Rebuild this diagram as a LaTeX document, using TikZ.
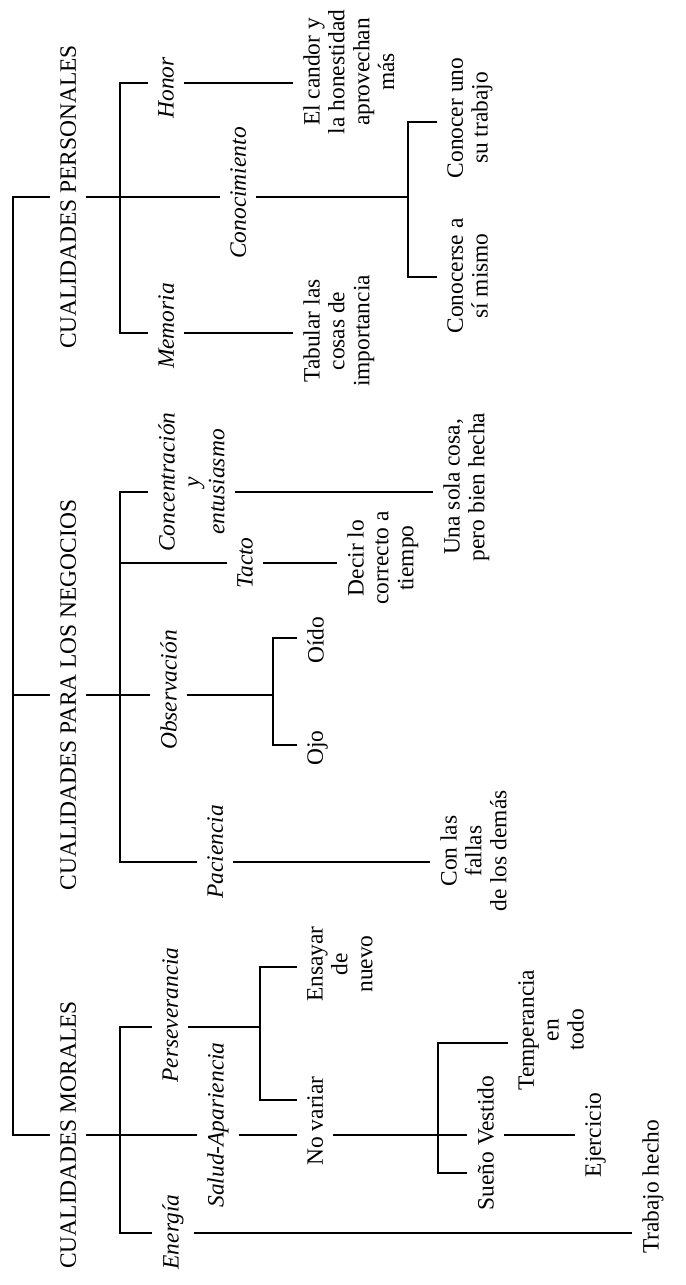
\documentclass[tikz,border=0pt]{standalone}
\usepackage{fontspec}
\setmainfont{Liberation Serif}
\begin{document}
\begin{tikzpicture}[x=0.015cm,y=-0.015cm,line width=0.8pt,
	txt/.style={rotate=90,anchor=north,inner xsep=1pt,inner ysep=4pt,align=center,font=\fontsize{10}{10.6}\selectfont},
	cat/.style={txt},
	sub/.style={txt,font=\fontsize{10}{10.6}\selectfont\itshape},
	leaf/.style={txt}]
			\useasboundingbox (0,0) rectangle (685,1285);
			\node (cp) at (50,197) [cat]{CUALIDADES PERSONALES};
			\node (cn) at (50,695) [cat]{CUALIDADES PARA LOS NEGOCIOS};
			\node (cm) at (50,1135) [cat]{CUALIDADES MORALES};
			\node (honor) at (148,88) [sub]{Honor};
			\node (cono) at (220,193) [sub]{Conocimiento};
			\node (memoria) at (148,326) [sub]{Memoria};
			\node (candor) at (293,72) [leaf]{El candor y\\la honestidad\\aprovechan\\más};
			\node (conuno) at (437,118) [leaf]{Conocer uno\\su trabajo};
			\node (conse) at (437,276) [leaf]{Conocerse a\\sí mismo};
			\node (tabular) at (293,331) [leaf]{Tabular las\\cosas de\\importancia};
			\node (conc) at (148,482) [sub]{Concentración\\y\\entusiasmo};
			\node (tacto) at (227,563) [sub]{Tacto};
			\node (obs) at (150,690) [sub]{Observación};
			\node (pac) at (197,852) [sub]{Paciencia};
			\node (unasola) at (433,487) [leaf]{Una sola cosa,\\pero bien hecha};
			\node (decir) at (337,558) [leaf]{Decir lo\\correcto a\\tiempo};
			\node (oido) at (297,640) [leaf]{Oído};
			\node (ojo) at (297,748) [leaf]{Ojo};
			\node (fallas) at (430,851) [leaf]{Con las\\fallas\\de los demás};
			\node (pers) at (152,1015) [sub]{Perseverancia};
			\node (salud) at (197,1125) [sub]{Salud-Apariencia};
			\node (energia) at (152,1232) [sub]{Energía};
			\node (ensayar) at (297,964) [leaf]{Ensayar\\de\\nuevo};
			\node (novar) at (297,1121) [leaf]{No variar};
			\node (temp) at (508,1030) [leaf]{Temperancia\\en\\todo};
			\node (sueno) at (467,1143) [leaf]{Sueño Vestido};
			\node (ejer) at (575,1135) [leaf]{Ejercicio};
			\node (trabajo) at (632,1187) [leaf]{Trabajo hecho};
			\coordinate (sp) at (13,0);
			\draw (cp.north) -| (cm.north -| sp) -- (cm.north);
			\draw (cn.north -| sp) -- (cn.north);
			\coordinate (ph) at (120,83);
			\coordinate (pm) at (120,333);
			\coordinate (kc) at (408,197);
			\coordinate (kt) at (408,122);
			\coordinate (kb) at (408,277);
			\draw (cp.south) -- (cono.north |- cp.south);
			\draw (ph -| honor.north) -- (ph) -- (pm) -- (pm -| memoria.north);
			\draw (ph -| honor.south) -- (ph -| candor.north);
			\draw (pm -| memoria.south) -- (pm -| tabular.north);
			\draw (cono.south |- kc) -- (kc);
			\draw (kt -| conuno.north) -- (kt) -- (kb) -- (kb -| conse.north);
			\coordinate (nc) at (120,492);
			\coordinate (nt) at (120,563);
			\coordinate (np) at (120,862);
			\coordinate (oc) at (273,695);
			\coordinate (ot) at (273,638);
			\coordinate (ob) at (273,745);
			\draw (cn.south) -- (obs.north |- cn.south);
			\draw (nc -| conc.north) -- (nc) -- (np) -- (np -| pac.north);
			\draw (nc -| conc.south) -- (nc -| unasola.north);
			\draw (nt) -- (nt -| tacto.north);
			\draw (nt -| tacto.south) -- (nt -| decir.north);
			\draw (obs.south |- oc) -- (oc);
			\draw (ot -| oido.north) -- (ot) -- (ob) -- (ob -| ojo.north);
			\draw (np -| pac.south) -- (np -| fallas.north);
			\coordinate (mp) at (120,1027);
			\coordinate (me) at (120,1233);
			\coordinate (vc) at (260,1027);
			\coordinate (vt) at (260,967);
			\coordinate (vb) at (260,1100);
			\coordinate (sc) at (438,1135);
			\coordinate (st) at (438,1043);
			\coordinate (sb) at (438,1173);
			\draw (cm.south) -- (salud.north |- cm.south);
			\draw (mp -| pers.north) -- (mp) -- (me) -- (me -| energia.north);
			\draw (pers.south |- vc) -- (vc);
			\draw (vt -| ensayar.north) -- (vt) -- (vb) -- (vb -| novar.north);
			\draw (salud.south |- sc) -- (novar.north |- sc);
			\draw (novar.south |- sc) -- (sueno.north |- sc);
			\draw (st -| temp.north) -- (st) -- (sb) -- (sb -| sueno.north);
			\draw (sueno.south |- sc) -- (ejer.north |- sc);
			\draw (me -| energia.south) -- (me -| trabajo.north);
\end{tikzpicture}
\end{document}
